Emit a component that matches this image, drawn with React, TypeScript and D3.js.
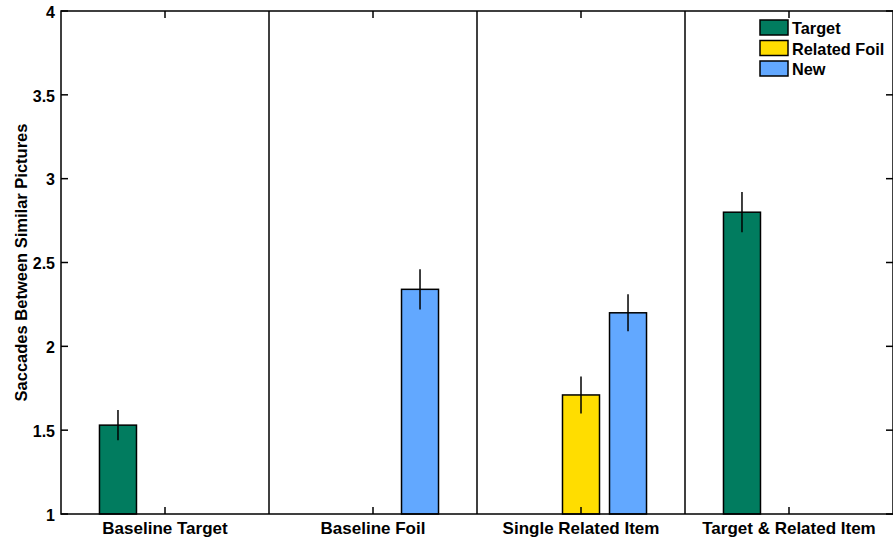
import React from "react";
import * as d3 from "d3";

const categories = ["Baseline Target", "Baseline Foil", "Single Related Item", "Target & Related Item"];
const seriesNames = ["Target", "Related Foil", "New"];
const targetValues = [1.53, NaN, NaN, 2.8];
const targetErrors = [0.09, NaN, NaN, 0.12];
const foilValues = [NaN, NaN, 1.71, NaN];
const foilErrors = [NaN, NaN, 0.11, NaN];
const newValues = [NaN, 2.34, 2.2, NaN];
const newErrors = [NaN, 0.12, 0.11, NaN];
const yTicks = [1, 1.5, 2, 2.5, 3, 3.5, 4];
const colors = ["#017c5f", "#ffdd00", "#62a8ff"];

const W = 893, H = 546;
const left = 61, right = 893, top = 11, bottom = 514;
const font = "'Liberation Sans', Arial, Helvetica, sans-serif";

export default function App() {
  const x = d3.scaleBand<string>().domain(categories).range([left, right]).padding(0);
  const y = d3.scaleLinear().domain([1, 4]).range([bottom, top]);
  const cw = x.bandwidth();
  const half = cw * 0.315;
  const inner = d3.scaleBand<string>().domain(seriesNames).range([-half, half]).paddingInner(0.213).paddingOuter(0);
  const values = [targetValues, foilValues, newValues];
  const errors = [targetErrors, foilErrors, newErrors];

  const bars: React.ReactNode[] = [];
  const errs: React.ReactNode[] = [];
  seriesNames.forEach((s, si) => {
    categories.forEach((c, ci) => {
      const v = values[si][ci];
      if (isNaN(v)) return;
      const cx = (x(c) as number) + cw / 2;
      const bx = cx + (inner(s) as number);
      bars.push(
        <rect key={`b${si}-${ci}`} x={bx} y={y(v)} width={inner.bandwidth()} height={y(1) - y(v)}
          fill={colors[si]} stroke="#000" strokeWidth={1.5} />
      );
      const e = errors[si][ci];
      const mx = bx + inner.bandwidth() / 2;
      errs.push(<line key={`e${si}-${ci}`} x1={mx} x2={mx} y1={y(v + e)} y2={y(v - e)} stroke="#000" strokeWidth={1.5} />);
    });
  });

  return (
    <div style={{ position: "absolute", left: 0, top: 0 }}>
      <svg width={W} height={H} style={{ display: "block", background: "#fff" }}>
        <rect x={0} y={0} width={W} height={H} fill="#fff" />
        {bars}
        {errs}
        {categories.slice(1).map((c) => (
          <line key={c} x1={x(c) as number} x2={x(c) as number} y1={top} y2={bottom} stroke="#000" strokeWidth={1.5} />
        ))}
        <rect x={left} y={top} width={right - left} height={bottom - top} fill="none" stroke="#000" strokeWidth={1.5} />
        {yTicks.map((t) => (
          <g key={t}>
            <line x1={left} x2={left + 7} y1={y(t)} y2={y(t)} stroke="#000" strokeWidth={1.5} />
            <line x1={right - 7} x2={right} y1={y(t)} y2={y(t)} stroke="#000" strokeWidth={1.5} />
            <text x={left - 6} y={y(t)} dy="0.42em" textAnchor="end" fontFamily={font} fontWeight="bold" fontSize={16}>
              {String(t)}
            </text>
          </g>
        ))}
        {categories.map((c) => {
          const cx = (x(c) as number) + cw / 2;
          return (
            <g key={c}>
              <line x1={cx} x2={cx} y1={bottom} y2={bottom - 7} stroke="#000" strokeWidth={1.5} />
              <line x1={cx} x2={cx} y1={top} y2={top + 7} stroke="#000" strokeWidth={1.5} />
              <text x={cx} y={533.5} textAnchor="middle" fontFamily={font} fontWeight="bold" fontSize={17}>{c}</text>
            </g>
          );
        })}
        <text transform={`translate(27,${(top + bottom) / 2}) rotate(-90)`} textAnchor="middle" fontFamily={font} fontWeight="bold" fontSize={16.5}>
          Saccades Between Similar Pictures
        </text>
        {seriesNames.map((s, i) => (
          <g key={s} transform={`translate(760,${20 + i * 20.5})`}>
            <rect x={0} y={0} width={28} height={15} fill={colors[i]} stroke="#000" strokeWidth={1.5} />
            <text x={32} y={14} fontFamily={font} fontWeight="bold" fontSize={16.3}>{s}</text>
          </g>
        ))}
      </svg>
    </div>
  );
}
